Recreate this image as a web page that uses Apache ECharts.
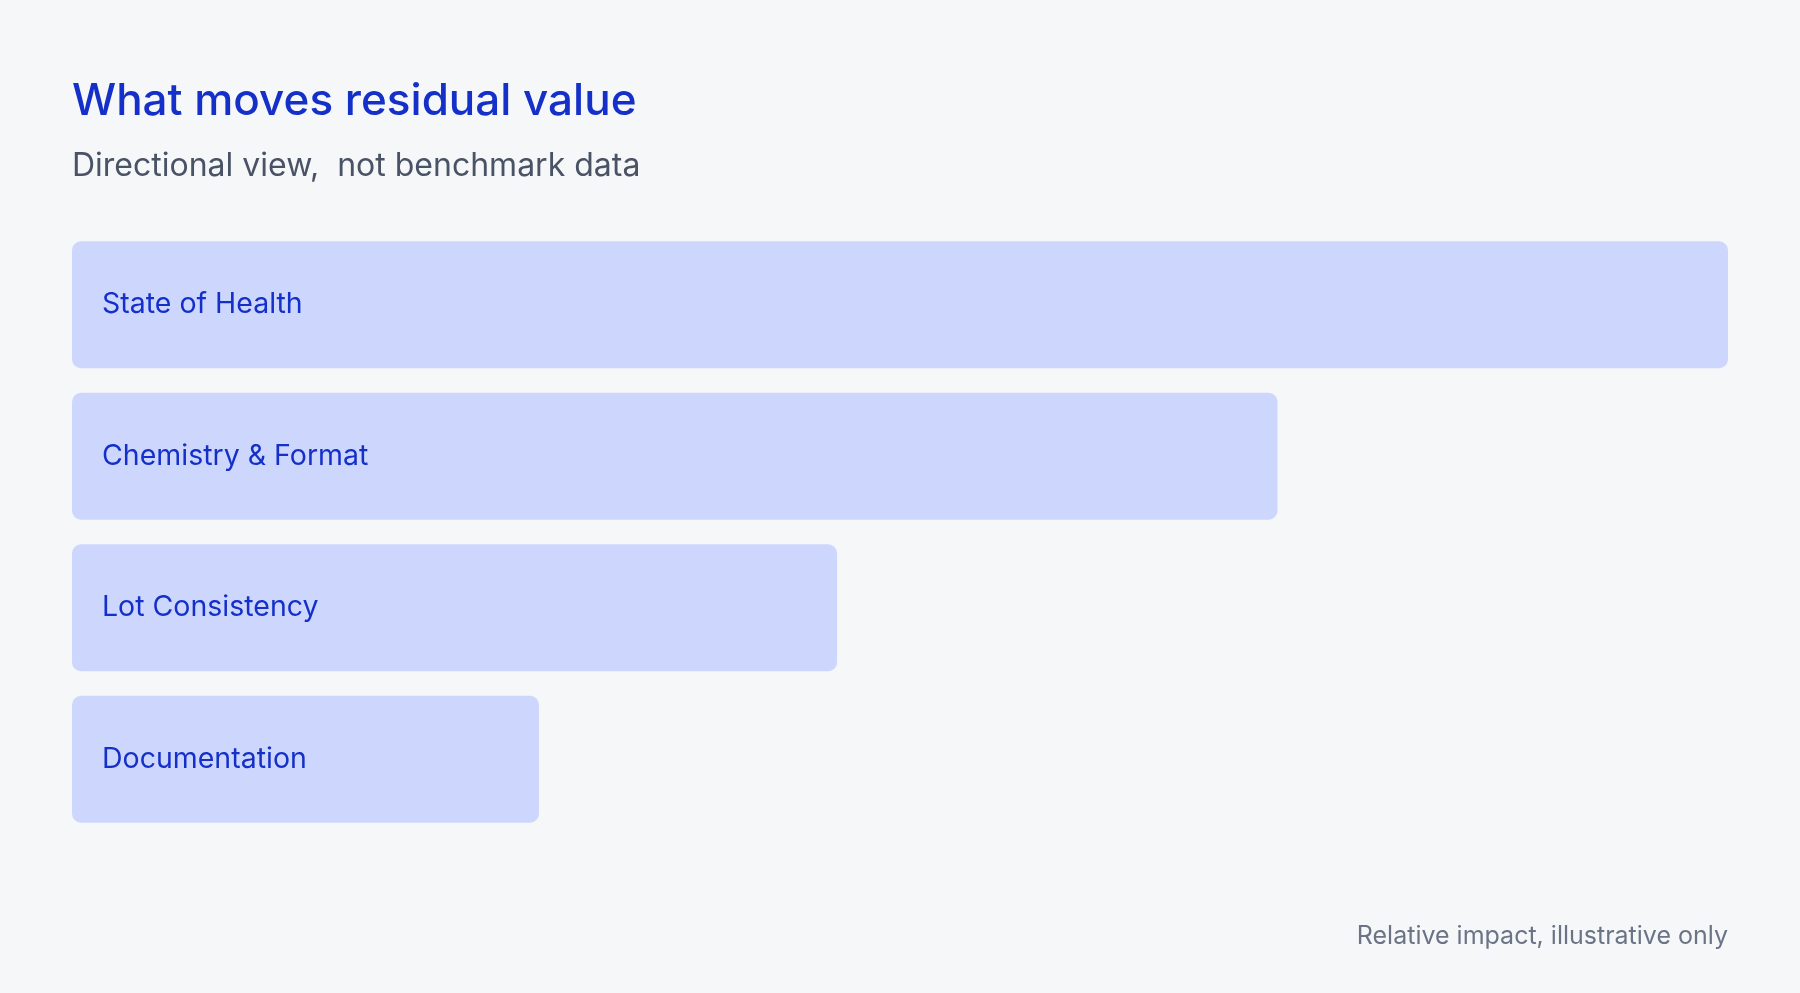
<!DOCTYPE html>
<html>
<head>
<meta charset="utf-8">
<script src="https://cdn.jsdelivr.net/npm/echarts@6/dist/echarts.min.js"></script>
<style>
html,body{margin:0;padding:0;background:#f6f7f9;}
#chart{width:1800px;height:993px;}
</style>
</head>
<body>
<div id="chart"></div>
<script>
// data
var categories = ['State of Health', 'Chemistry & Format', 'Lot Consistency', 'Documentation'];
var impact = [100, 72.8, 46.2, 28.2];

var chart = echarts.init(document.getElementById('chart'));
var fontFam = 'Inter, "Noto Sans", sans-serif';

var option = {
    backgroundColor: '#f6f7f9',
    animation: false,
    title: [{
        text: 'What moves residual value',
        left: 72, top: 80, padding: 0,
        textStyle: {color: '#1530c8', fontSize: 44, fontWeight: 500, fontFamily: fontFam}
    }, {
        text: 'Directional view,  not benchmark data',
        left: 72, top: 150, padding: 0,
        textStyle: {color: '#4a5365', fontSize: 32, fontWeight: 400, fontFamily: fontFam}
    }, {
        text: 'Relative impact, illustrative only',
        right: 72, top: 924, padding: 0,
        textStyle: {color: '#6b7487', fontSize: 25, fontWeight: 400, fontFamily: fontFam}
    }],
    grid: {left: 72, right: 72, top: 229, bottom: 158},
    xAxis: {type: 'value', min: 0, max: 100, show: false},
    yAxis: {
        type: 'category', data: categories, inverse: true,
        axisLine: {show: false}, axisTick: {show: false}, axisLabel: {show: false}
    },
    series: [{
        type: 'bar',
        data: impact,
        barWidth: 127,
        itemStyle: {color: '#cdd7fe', borderRadius: 9},
        label: {
            show: true, position: 'insideLeft', distance: 30,
            formatter: function (p) { return p.name; },
            color: '#1530c8', fontSize: 28.5, fontFamily: fontFam
        }
    }]
};
chart.setOption(option);
</script>
</body>
</html>
